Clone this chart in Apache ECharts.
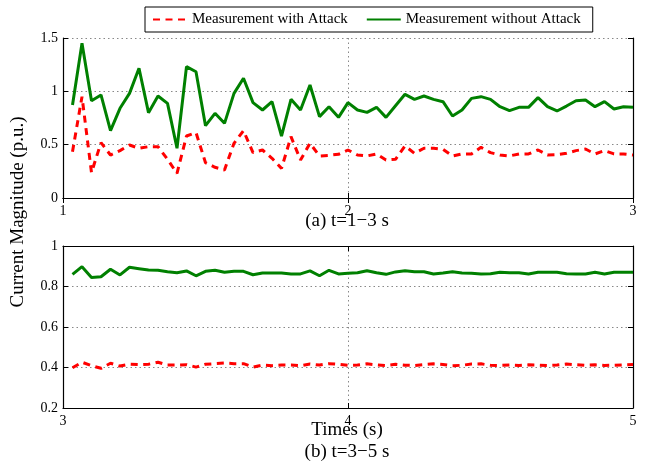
<!DOCTYPE html>
<html>
<head>
<meta charset="utf-8">
<script src="https://cdn.jsdelivr.net/npm/echarts@6/dist/echarts.min.js"></script>
<style>
html,body{margin:0;padding:0;background:#fff;}
#chart{width:651px;height:463px;}
</style>
</head>
<body>
<div id="chart"></div>
<script>
// time base: samples every 1/30 s
const stepsPerSecond = 30;
const topStart = 1, bottomStart = 3;
const tTop = Array.from({length: 60}, (_, i) => topStart + (i + 1) / stepsPerSecond);
const tBot = Array.from({length: 60}, (_, i) => bottomStart + (i + 1) / stepsPerSecond);

const greenTop = [0.872,1.45,0.912,0.966,0.631,0.841,0.981,1.216,0.800,0.956,0.887,0.466,1.231,1.184,0.678,0.794,0.700,0.981,1.122,0.894,0.825,0.903,0.581,0.925,0.825,1.059,0.763,0.856,0.756,0.894,
 0.825,0.803,0.850,0.756,0.865,0.972,0.925,0.956,0.925,0.903,0.769,0.825,0.934,0.950,0.925,0.856,0.819,0.850,0.850,0.941,0.856,0.816,0.862,0.912,0.919,0.856,0.903,0.834,0.856,0.850];
const redTop = [0.434,0.95,0.238,0.519,0.403,0.444,0.497,0.466,0.481,0.481,0.363,0.231,0.581,0.613,0.331,0.288,0.263,0.513,0.631,0.425,0.450,0.372,0.278,0.575,0.356,0.513,0.394,0.400,0.410,0.450,
 0.403,0.394,0.413,0.356,0.363,0.488,0.419,0.466,0.466,0.456,0.394,0.413,0.413,0.475,0.425,0.403,0.394,0.413,0.413,0.450,0.403,0.406,0.419,0.444,0.459,0.413,0.444,0.413,0.413,0.403];
const greenBot = [0.860,0.898,0.845,0.848,0.885,0.857,0.895,0.888,0.881,0.880,0.873,0.868,0.877,0.853,0.875,0.880,0.870,0.875,0.875,0.858,0.867,0.867,0.867,0.862,0.862,0.877,0.853,0.880,0.862,0.865,
 0.868,0.878,0.868,0.860,0.872,0.878,0.873,0.873,0.862,0.867,0.873,0.867,0.865,0.862,0.863,0.870,0.868,0.868,0.862,0.870,0.870,0.870,0.863,0.862,0.862,0.870,0.862,0.870,0.870,0.870];
const redBot = [0.399,0.426,0.409,0.396,0.421,0.407,0.416,0.414,0.416,0.426,0.412,0.412,0.414,0.402,0.416,0.419,0.422,0.419,0.419,0.402,0.412,0.409,0.412,0.412,0.409,0.417,0.412,0.419,0.416,0.411,
 0.412,0.418,0.413,0.410,0.416,0.411,0.410,0.414,0.418,0.415,0.409,0.411,0.417,0.418,0.411,0.410,0.412,0.410,0.413,0.412,0.410,0.412,0.417,0.414,0.411,0.413,0.410,0.411,0.413,0.415];

const seriesNames = ['Measurement with Attack', 'Measurement without Attack'];
const yTitle = 'Current Magnitude (p.u.)';
const subTitleA = '(a) t=1\u22123 s';
const subTitleB = '(b) t=3\u22125 s';
const xTitle = 'Times (s)';

const FONT = '"Liberation Serif", "Times New Roman", serif';
const zip = (xs, ys) => xs.map((x, i) => [x, ys[i]]);

const chart = echarts.init(document.getElementById('chart'), null, {renderer: 'canvas'});

const tickInside = {show: true, inside: true, length: 5, lineStyle: {color: '#000', width: 1}};
const axisLine = {show: true, lineStyle: {color: '#000', width: 1.2}};
const gridDotted = {show: true, lineStyle: {color: '#888', type: [1.5, 3], width: 1}};
const labelStyle = {color: '#000', fontFamily: FONT, fontSize: 14};

function xAx(gridIndex, min, max, pos, showLabel) {
  return {
    type: 'value', gridIndex, min, max, interval: 1, position: pos,
    axisLine, axisTick: tickInside,
    axisLabel: showLabel ? Object.assign({margin: 6}, labelStyle) : {show: false},
    splitLine: showLabel ? gridDotted : {show: false}
  };
}
function yAx(gridIndex, min, max, interval, pos, showLabel) {
  return {
    type: 'value', gridIndex, min, max, interval, position: pos,
    axisLine, axisTick: tickInside,
    axisLabel: showLabel ? Object.assign({margin: 5}, labelStyle) : {show: false},
    splitLine: showLabel ? gridDotted : {show: false}
  };
}

const redStyle = {color: '#ff0000', width: 3, type: [7, 5.5]};
const greenStyle = {color: '#008000', width: 3, type: 'solid'};

chart.setOption({
  animation: false,
  backgroundColor: '#fff',
  grid: [
    {left: 63, top: 38, width: 570, height: 160},
    {left: 63, top: 246, width: 570, height: 162}
  ],
  legend: {
    data: seriesNames,
    left: 145, top: 7,
    orient: 'horizontal',
    itemWidth: 34, itemHeight: 14, itemGap: 18,
    padding: [5, 12, 5, 7],
    borderColor: '#000', borderWidth: 1,
    itemStyle: {opacity: 0},
    textStyle: {color: '#000', fontFamily: FONT, fontSize: 15}
  },
  xAxis: [
    xAx(0, 1, 3, 'bottom', true),
    xAx(0, 1, 3, 'top', false),
    xAx(1, 3, 5, 'bottom', true),
    xAx(1, 3, 5, 'top', false)
  ],
  yAxis: [
    yAx(0, 0, 1.5, 0.5, 'left', true),
    yAx(0, 0, 1.5, 0.5, 'right', false),
    yAx(1, 0.2, 1, 0.2, 'left', true),
    yAx(1, 0.2, 1, 0.2, 'right', false)
  ],
  series: [
    {name: seriesNames[0], type: 'line', xAxisIndex: 0, yAxisIndex: 0, data: zip(tTop, redTop), symbol: 'none', lineStyle: redStyle, itemStyle: {color: '#ff0000'}, z: 3},
    {name: seriesNames[1], type: 'line', xAxisIndex: 0, yAxisIndex: 0, data: zip(tTop, greenTop), symbol: 'none', lineStyle: greenStyle, itemStyle: {color: '#008000'}, z: 4},
    {name: seriesNames[0], type: 'line', xAxisIndex: 2, yAxisIndex: 2, data: zip(tBot, redBot), symbol: 'none', lineStyle: redStyle, itemStyle: {color: '#ff0000'}, z: 3},
    {name: seriesNames[1], type: 'line', xAxisIndex: 2, yAxisIndex: 2, data: zip(tBot, greenBot), symbol: 'none', lineStyle: greenStyle, itemStyle: {color: '#008000'}, z: 4}
  ],
  graphic: [
    {type: 'text', x: 18, y: 212, rotation: Math.PI / 2,
      style: {text: yTitle, fill: '#000', font: '19px ' + FONT, align: 'center', verticalAlign: 'middle'}},
    {type: 'text', x: 347, y: 221,
      style: {text: subTitleA, fill: '#000', font: '19px ' + FONT, align: 'center', verticalAlign: 'middle'}},
    {type: 'text', x: 347, y: 430,
      style: {text: xTitle, fill: '#000', font: '19px ' + FONT, align: 'center', verticalAlign: 'middle'}},
    {type: 'text', x: 347, y: 452,
      style: {text: subTitleB, fill: '#000', font: '19px ' + FONT, align: 'center', verticalAlign: 'middle'}}
  ]
});
</script>
</body>
</html>
